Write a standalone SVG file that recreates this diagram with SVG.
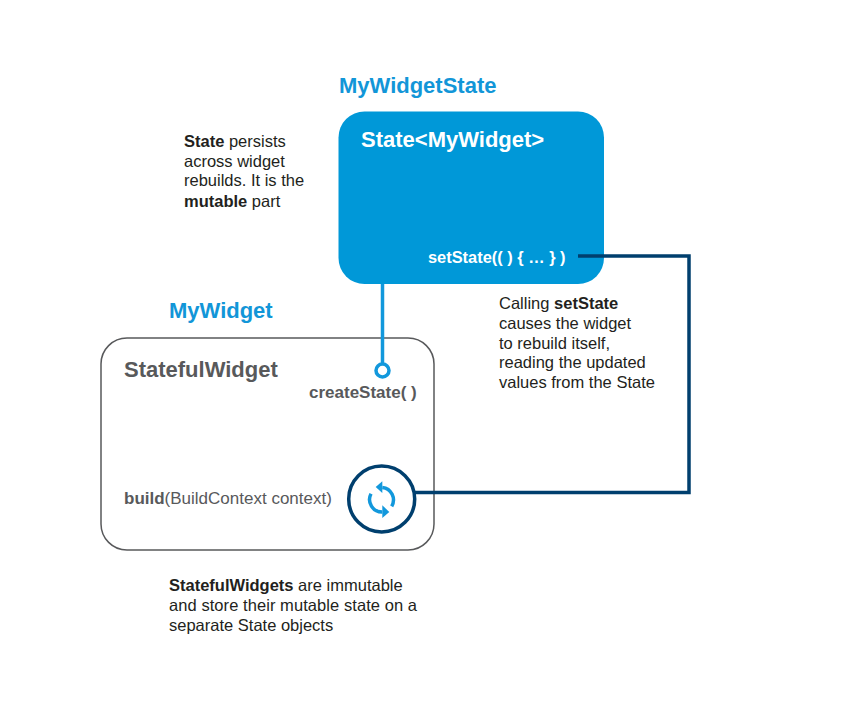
<svg xmlns="http://www.w3.org/2000/svg" width="853" height="704" viewBox="0 0 853 704">
<style>
text{font-family:"Liberation Sans",Arial,sans-serif}
.dark{font-size:16.500px;fill:#231f20}
.b{font-weight:700}
.title{font-size:22px;font-weight:700;fill:#1296d8}
.grey{fill:#58595b}
.navy{fill:none;stroke:#003f6e;stroke-width:3.5}
.blue{fill:none;stroke:#1298dc;stroke-width:3.5}
.head{fill:#1298dc}
</style>
<rect width="853" height="704" fill="#fff"/>
<g id="state-node">
<rect x="338.500" y="111.500" width="265.500" height="172.500" rx="26" fill="#0098d8"/>
<text x="361" y="147" font-size="22" font-weight="700" fill="#fff">State&lt;MyWidget&gt;</text>
<text x="428" y="263" font-size="16.400" font-weight="700" fill="#fff">setState(( ) { … } )</text>
</g>
<text class="title" x="339" y="93">MyWidgetState</text>
<g id="widget-node">
<rect x="101" y="338" width="333" height="212" rx="26" fill="#fff" stroke="#58595b" stroke-width="1.500"/>
<text x="124" y="377" font-size="22" font-weight="700" class="grey">StatefulWidget</text>
<text x="309" y="398" font-size="17" font-weight="700" class="grey">createState( )</text>
<text x="124" y="504" font-size="17" class="grey"><tspan font-weight="700">build</tspan>(BuildContext context)</text>
</g>
<text class="title" x="169" y="318">MyWidget</text>
<g id="connectors">
<path class="blue" d="M382.500 284V364"/>
<circle class="blue" cx="382.500" cy="370.500" r="6.500"/>
<path class="navy" d="M578 256H689V492.500H415"/>
</g>
<g id="rebuild-node">
<circle cx="381.700" cy="499" r="33" fill="#fff" stroke="#003f6e" stroke-width="3.500"/>
<path class="blue" d="M382.300 487.500A12.500 12.500 0 0 1 391.700 506.300"/>
<path class="head" d="M375.700 487L382.300 481.300V493Z"/>
<path class="blue" d="M371 493.700A12.500 12.500 0 0 0 382.300 512"/>
<path class="head" d="M389.300 512L382.300 505.300V518Z"/>
</g>
<text class="dark" x="184" y="147"><tspan class="b">State</tspan> persists</text>
<text class="dark" x="184" y="167">across widget</text>
<text class="dark" x="184" y="186">rebuilds. It is the</text>
<text class="dark" x="184" y="207"><tspan class="b">mutable</tspan> part</text>
<text class="dark" x="499" y="309">Calling <tspan class="b">setState</tspan></text>
<text class="dark" x="499" y="329">causes the widget</text>
<text class="dark" x="499" y="349">to rebuild itself,</text>
<text class="dark" x="499" y="368">reading the updated</text>
<text class="dark" x="499" y="388">values from the State</text>
<text class="dark" x="169" y="591"><tspan class="b">StatefulWidgets</tspan> are immutable</text>
<text class="dark" x="169" y="611" textLength="248">and store their mutable state on a</text>
<text class="dark" x="169" y="631">separate State objects</text>
</svg>
